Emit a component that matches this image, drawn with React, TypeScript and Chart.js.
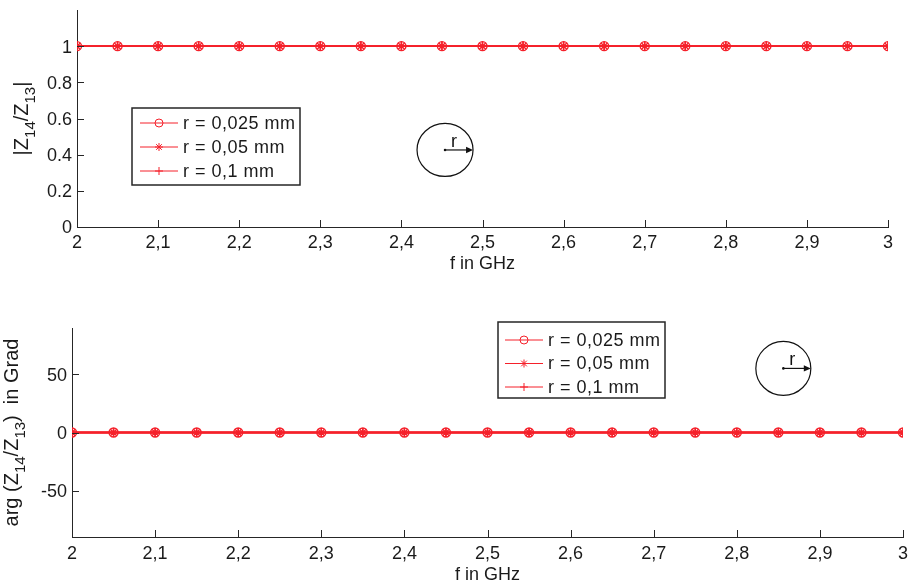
import React, { useEffect, useRef } from 'react';
import { Chart, registerables } from 'chart.js';

Chart.register(...registerables);

// ---------------- data ----------------
const FREQ_GHZ = [2, 2.05, 2.1, 2.15, 2.2, 2.25, 2.3, 2.35, 2.4, 2.45, 2.5, 2.55, 2.6, 2.65, 2.7, 2.75, 2.8, 2.85, 2.9, 2.95, 3];
const X_TICKS = [2, 2.1, 2.2, 2.3, 2.4, 2.5, 2.6, 2.7, 2.8, 2.9, 3];
const SERIES_LABELS = ['r = 0,025 mm', 'r = 0,05 mm', 'r = 0,1 mm'];
const SERIES_MARKERS = ['circle', 'star', 'cross'];

const MAG_R0025 = [1, 1, 1, 1, 1, 1, 1, 1, 1, 1, 1, 1, 1, 1, 1, 1, 1, 1, 1, 1, 1];
const MAG_R005 = [1, 1, 1, 1, 1, 1, 1, 1, 1, 1, 1, 1, 1, 1, 1, 1, 1, 1, 1, 1, 1];
const MAG_R01 = [1, 1, 1, 1, 1, 1, 1, 1, 1, 1, 1, 1, 1, 1, 1, 1, 1, 1, 1, 1, 1];

const PHASE_R0025 = [0, 0, 0, 0, 0, 0, 0, 0, 0, 0, 0, 0, 0, 0, 0, 0, 0, 0, 0, 0, 0];
const PHASE_R005 = [0, 0, 0, 0, 0, 0, 0, 0, 0, 0, 0, 0, 0, 0, 0, 0, 0, 0, 0, 0, 0];
const PHASE_R01 = [0, 0, 0, 0, 0, 0, 0, 0, 0, 0, 0, 0, 0, 0, 0, 0, 0, 0, 0, 0, 0];

const MAG_Y_TICKS = [0, 0.2, 0.4, 0.6, 0.8, 1];
const MAG_Y_RANGE = [0, 1.2];
const PHASE_Y_TICKS = [-50, 0, 50];
const PHASE_Y_RANGE = [-90, 90];

const X_TITLE = 'f in GHz';
// y titles with subscripts: [text, isSubscript]
const MAG_Y_TITLE: [string, boolean][] = [['|Z', false], ['14', true], ['/Z', false], ['13', true], ['|', false]];
const PHASE_Y_TITLE: [string, boolean][] = [['arg (Z', false], ['14', true], ['/Z', false], ['13', true], [')  in Grad', false]];

// ---------------- style ----------------
const RED = '#f5202a';
const AXIS = '#262626';
const TEXT = '#1a1a1a';
const FONT = '"Liberation Sans", Arial, Helvetica, sans-serif';

function drawMarker(ctx: CanvasRenderingContext2D, style: string, x: number, y: number, r: number) {
  ctx.beginPath();
  if (style === 'circle') {
    ctx.arc(x, y, r, 0, Math.PI * 2);
  } else if (style === 'cross') {
    ctx.moveTo(x - r, y); ctx.lineTo(x + r, y);
    ctx.moveTo(x, y - r); ctx.lineTo(x, y + r);
  } else {
    const d = r * 0.7071;
    ctx.moveTo(x - r, y); ctx.lineTo(x + r, y);
    ctx.moveTo(x, y - r); ctx.lineTo(x, y + r);
    ctx.moveTo(x - d, y - d); ctx.lineTo(x + d, y + d);
    ctx.moveTo(x - d, y + d); ctx.lineTo(x + d, y - d);
  }
  ctx.stroke();
}

const extrasPlugin = {
  id: 'extras',
  afterDraw(chart: any, _args: any, opts: any) {
    const ctx: CanvasRenderingContext2D = chart.ctx;
    const area = chart.chartArea;
    const xs = chart.scales.x;
    const ys = chart.scales.y;
    ctx.save();

    // inward tick marks
    ctx.strokeStyle = AXIS;
    ctx.lineWidth = 1;
    ctx.beginPath();
    xs.ticks.forEach((t: any) => {
      const px = Math.round(xs.getPixelForValue(t.value)) + 0.5;
      ctx.moveTo(px, area.bottom);
      ctx.lineTo(px, area.bottom - 7);
    });
    ys.ticks.forEach((t: any) => {
      const py = Math.round(ys.getPixelForValue(t.value)) + 0.5;
      ctx.moveTo(area.left, py);
      ctx.lineTo(area.left + 7, py);
    });
    ctx.stroke();

    // y title with subscripts (rotated)
    const parts: [string, boolean][] = opts.yTitle;
    const mainFont = `20px ${FONT}`;
    const subFont = `15px ${FONT}`;
    let total = 0;
    parts.forEach(([s, sub]) => {
      ctx.font = sub ? subFont : mainFont;
      total += ctx.measureText(s).width;
    });
    ctx.translate(opts.yTitleX, (area.top + area.bottom) / 2);
    ctx.rotate(-Math.PI / 2);
    ctx.fillStyle = TEXT;
    ctx.textBaseline = 'alphabetic';
    ctx.textAlign = 'left';
    let cx = -total / 2;
    parts.forEach(([s, sub]) => {
      ctx.font = sub ? subFont : mainFont;
      ctx.fillText(s, cx, sub ? 7 : 0);
      cx += ctx.measureText(s).width;
    });
    ctx.setTransform(1, 0, 0, 1, 0, 0);
    ctx.restore();
    ctx.save();

    // legend box
    const lg = opts.legend;
    const bx = area.left + lg.dx;
    const by = area.top + lg.dy;
    ctx.fillStyle = '#ffffff';
    ctx.fillRect(bx, by, lg.w, lg.h);
    ctx.strokeStyle = AXIS;
    ctx.lineWidth = 1.5;
    ctx.strokeRect(bx, by, lg.w, lg.h);
    ctx.font = `18px ${FONT}`;
    ctx.textBaseline = 'middle';
    ctx.textAlign = 'left';
    chart.data.datasets.forEach((ds: any, i: number) => {
      const rowY = by + lg.firstRow + i * lg.rowGap;
      ctx.strokeStyle = RED;
      ctx.lineWidth = 1;
      ctx.beginPath();
      ctx.moveTo(bx + lg.lineStart, rowY);
      ctx.lineTo(bx + lg.lineStart + 38, rowY);
      ctx.stroke();
      drawMarker(ctx, ds.pointStyle, bx + lg.lineStart + 19, rowY, 4);
      ctx.fillStyle = TEXT;
      (ctx as any).letterSpacing = '0.5px';
      ctx.fillText(ds.label, bx + lg.textStart, rowY + 1);
      (ctx as any).letterSpacing = '0px';
    });

    // radius icon
    const ic = opts.icon;
    const cxp = xs.getPixelForValue(ic.x);
    const cyp = ys.getPixelForValue(ic.y);
    ctx.strokeStyle = '#111';
    ctx.lineWidth = 1.2;
    ctx.beginPath();
    ctx.ellipse(cxp, cyp, ic.rx, ic.ry, 0, 0, Math.PI * 2);
    ctx.stroke();
    ctx.beginPath();
    ctx.moveTo(cxp, cyp);
    ctx.lineTo(cxp + ic.rx - 5, cyp);
    ctx.stroke();
    ctx.fillStyle = '#111';
    ctx.beginPath();
    ctx.arc(cxp, cyp, 1.3, 0, Math.PI * 2);
    ctx.fill();
    ctx.beginPath();
    ctx.moveTo(cxp + ic.rx, cyp);
    ctx.lineTo(cxp + ic.rx - 7, cyp - 3.2);
    ctx.lineTo(cxp + ic.rx - 7, cyp + 3.2);
    ctx.closePath();
    ctx.fill();
    ctx.font = `18px ${FONT}`;
    ctx.textAlign = 'center';
    ctx.textBaseline = 'alphabetic';
    ctx.fillText('r', cxp + 9, cyp - 3);

    ctx.restore();
  },
};

function buildConfig(p: any) {
  const datasets = p.series.map((vals: number[], i: number) => ({
    label: SERIES_LABELS[i],
    data: FREQ_GHZ.map((f, j) => ({ x: f, y: vals[j] })),
    borderColor: RED,
    backgroundColor: 'rgba(0,0,0,0)',
    borderWidth: 1.8,
    pointStyle: SERIES_MARKERS[i],
    pointRadius: 4.5,
    pointBorderWidth: 1.4,
    pointBorderColor: RED,
    pointBackgroundColor: 'rgba(0,0,0,0)',
    tension: 0,
  }));
  return {
    type: 'line' as const,
    data: { datasets },
    plugins: [extrasPlugin],
    options: {
      animation: false,
      responsive: false,
      maintainAspectRatio: false,
      events: [],
      layout: { padding: p.padding },
      plugins: {
        legend: { display: false },
        tooltip: { enabled: false },
        extras: { yTitle: p.yTitle, yTitleX: p.yTitleX, legend: p.legend, icon: p.icon },
      },
      scales: {
        x: {
          type: 'linear',
          min: 2,
          max: 3,
          afterBuildTicks: (s: any) => { s.ticks = X_TICKS.map((v) => ({ value: v })); },
          afterFit: (s: any) => {
            s.height = p.xAxisHeight;
            s.paddingLeft = 0; s.paddingRight = 0; s.paddingTop = 0; s.paddingBottom = 0;
          },
          grid: { display: false, drawTicks: false },
          border: { display: true, color: AXIS, width: 1 },
          ticks: {
            padding: p.xTickPad,
            color: TEXT,
            font: { family: FONT, size: 18 },
            maxRotation: 0,
            autoSkip: false,
            callback: (v: number) => String(Math.round(v * 10) / 10).replace('.', ','),
          },
          title: {
            display: true,
            text: X_TITLE,
            color: TEXT,
            font: { family: FONT, size: 18 },
            padding: { top: 0, bottom: p.xTitlePad },
          },
        },
        y: {
          type: 'linear',
          min: p.yRange[0],
          max: p.yRange[1],
          afterBuildTicks: (s: any) => { s.ticks = p.yTicks.map((v: number) => ({ value: v })); },
          afterFit: (s: any) => {
            s.width = p.yAxisWidth;
            s.paddingLeft = 0; s.paddingRight = 0; s.paddingTop = 0; s.paddingBottom = 0;
          },
          grid: { display: false, drawTicks: false },
          border: { display: true, color: AXIS, width: 1 },
          ticks: {
            padding: 5,
            labelOffset: 1.5,
            color: TEXT,
            font: { family: FONT, size: 18 },
            autoSkip: false,
            callback: (v: number) => String(Math.round(v * 10) / 10),
          },
        },
      },
    },
  };
}

function ChartPanel(props: { top: number; height: number; cfg: any }) {
  const ref = useRef<HTMLCanvasElement | null>(null);
  useEffect(() => {
    if (!ref.current) return;
    const chart = new Chart(ref.current, buildConfig(props.cfg) as any);
    return () => chart.destroy();
  }, []);
  return (
    <div style={{ position: 'absolute', left: 0, top: props.top, width: 909, height: props.height }}>
      <canvas ref={ref} width={909} height={props.height} style={{ width: 909, height: props.height, display: 'block' }} />
    </div>
  );
}

const TOP_CFG = {
  series: [MAG_R0025, MAG_R005, MAG_R01],
  yRange: MAG_Y_RANGE,
  yTicks: MAG_Y_TICKS,
  yTitle: MAG_Y_TITLE,
  yTitleX: 28,
  padding: { top: 10, right: 21, left: 0, bottom: 0 },
  yAxisWidth: 77,
  xAxisHeight: 53,
  xTickPad: 5,
  xTitlePad: 5,
  legend: { dx: 55, dy: 98, w: 168, h: 77, firstRow: 15, rowGap: 24, lineStart: 8, textStart: 51 },
  icon: { x: 2.4538, y: 0.426, rx: 28, ry: 26.5 },
};

const BOTTOM_CFG = {
  series: [PHASE_R0025, PHASE_R005, PHASE_R01],
  yRange: PHASE_Y_RANGE,
  yTicks: PHASE_Y_TICKS,
  yTitle: PHASE_Y_TITLE,
  yTitleX: 18,
  padding: { top: 38, right: 6, left: 0, bottom: 0 },
  yAxisWidth: 72,
  xAxisHeight: 47,
  xTickPad: 6,
  xTitlePad: -2,
  legend: { dx: 426, dy: -6, w: 167, h: 76, firstRow: 18, rowGap: 23.5, lineStart: 7, textStart: 50 },
  icon: { x: 2.856, y: 55.2, rx: 27.5, ry: 27 },
};

export default function App() {
  return (
    <div style={{ position: 'absolute', left: 0, top: 0, width: 909, height: 584, background: '#fff' }}>
      <ChartPanel top={0} height={280} cfg={TOP_CFG} />
      <ChartPanel top={290} height={294} cfg={BOTTOM_CFG} />
    </div>
  );
}
